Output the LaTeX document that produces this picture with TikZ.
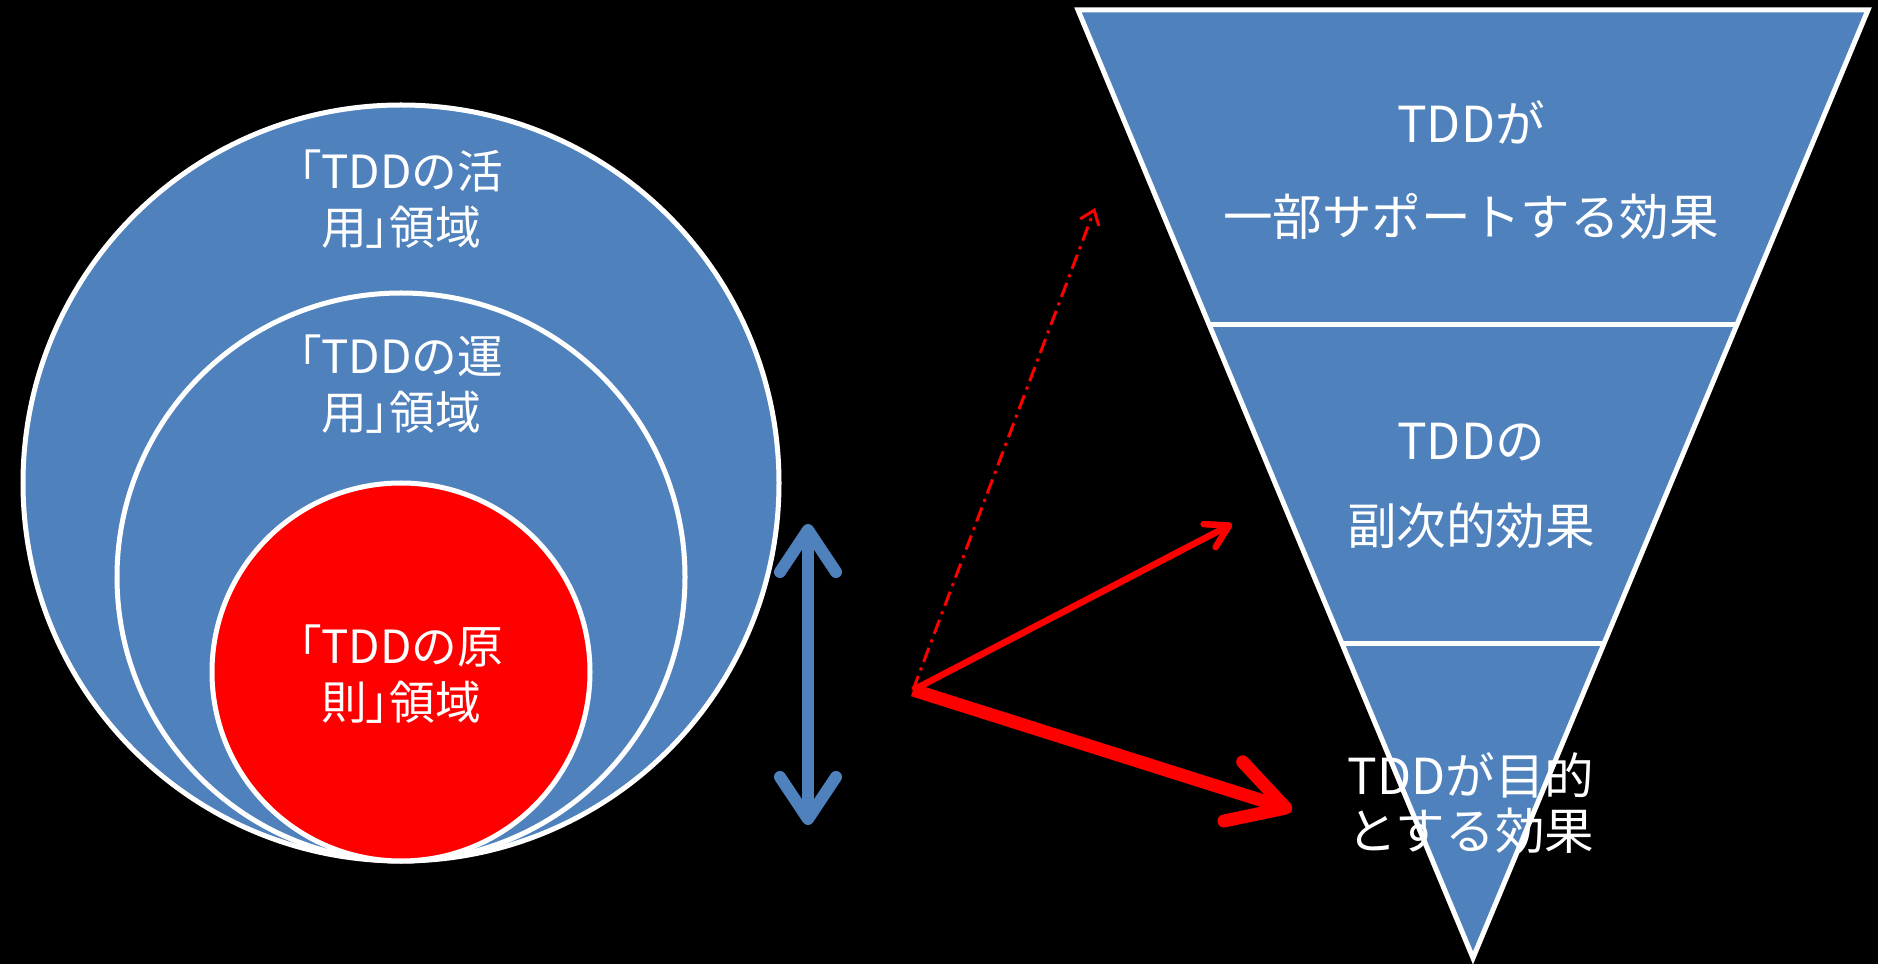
\documentclass[tikz,border=0pt]{standalone}
\usepackage{fontspec}
\setmainfont{Noto Sans CJK JP}
\usetikzlibrary{arrows.meta,calc}
\definecolor{areablue}{RGB}{79,129,189}
\newcommand{\pbr}[1]{{\addfontfeature{RawFeature=+palt}#1}}
\tikzset{
  area/.style={draw=white,line width=0.05cm,fill=areablue},
  areatext/.style={text=white,align=center,font=\fontsize{13}{15.9}\selectfont},
  effecttext/.style={text=white,align=center},
  redarrow/.style={draw=red,line cap=butt}
}
\begin{document}
\begin{tikzpicture}[x=0.01cm,y=-0.01cm]
\fill[black] (0,0) rectangle (1878,964);
% nested areas
\draw[area] (401,483) circle[radius=378];
\draw[area] (401,577) circle[radius=284];
\draw[area,fill=red] (401,672) circle[radius=189];
\node[areatext] (use)  at (401,199) {\pbr{「}TDDの活\\用\pbr{」}領域};
\node[areatext] (ops)  at (401,384) {\pbr{「}TDDの運\\用\pbr{」}領域};
\node[areatext] (rule) at (401,674) {\pbr{「}TDDの原\\則\pbr{」}領域};
% effects
\coordinate (tl) at (1078,10);
\coordinate (tr) at (1868,10);
\coordinate (tip) at (1473,958);
\draw[area,line join=miter] (tl) -- (tr) -- (tip) -- cycle;
\draw[white,line width=0.05cm] ($(tl)!0.332!(tip)$) -- ($(tr)!0.332!(tip)$);
\draw[white,line width=0.05cm] ($(tl)!0.668!(tip)$) -- ($(tr)!0.668!(tip)$);
\node[effecttext,font=\fontsize{14.1}{26.5}\selectfont] (support) at (1471,170) {TDDが\\一部サポートする効果};
\node[effecttext,font=\fontsize{14.1}{24.2}\selectfont] (side) at (1471,486) {TDDの\\副次的効果};
\node[effecttext,font=\fontsize{14.1}{15.6}\selectfont] (goal) at (1471,803) {TDDが目的\\とする効果};
% arrows
\coordinate (bt) at (808,524);
\coordinate (bb) at (808,825);
\draw[areablue,line width=0.12cm,
  {Straight Barb[round,length=0.42cm,width=0.56cm]}-{Straight Barb[round,length=0.42cm,width=0.56cm]}] (bt) -- (bb);
\coordinate (o) at (913,690);
\coordinate (o1) at (1095,208);
\coordinate (o2) at (1232,524);
\coordinate (o3) at (1292,810);
\draw[redarrow,line width=0.03cm,dash pattern=on 0.15cm off 0.06cm on 0.03cm off 0.06cm,
  -{Straight Barb[length=0.13cm,width=0.2cm]}] (o) -- (o1);
\draw[redarrow,line width=0.065cm,-{Straight Barb[round,length=0.22cm,width=0.26cm]}] (o) -- (o2);
\draw[redarrow,line width=0.13cm,-{Straight Barb[round,length=0.55cm,width=0.62cm]}] (o) -- (o3);
\end{tikzpicture}
\end{document}
